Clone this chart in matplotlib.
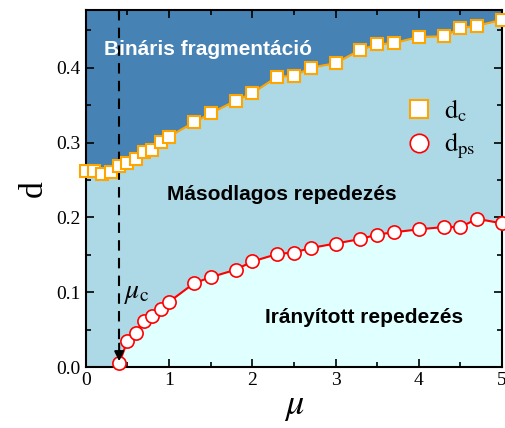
""" Phase diagram d(mu) with the three fragmentation regimes """
import matplotlib.pyplot as plt
from matplotlib.ticker import MultipleLocator

plt.rcParams["mathtext.fontset"] = "stix"

# critical values d_c (squares) and d_ps (circles)
mu_c_vals = [0.0, 0.1, 0.2, 0.3, 0.4, 0.5, 0.6, 0.7, 0.8, 0.9, 1.0, 1.3, 1.5, 1.8, 2.0,
             2.3, 2.5, 2.7, 3.0, 3.3, 3.5, 3.7, 4.0, 4.3, 4.5, 4.7, 5.0]
d_c = [0.262, 0.262, 0.258, 0.261, 0.268, 0.272, 0.278, 0.287, 0.290, 0.301, 0.308,
       0.327, 0.339, 0.356, 0.366, 0.388, 0.389, 0.400, 0.406, 0.424, 0.431, 0.433,
       0.441, 0.442, 0.453, 0.456, 0.464]

mu_ps_vals = [0.4, 0.5, 0.6, 0.7, 0.8, 0.9, 1.0, 1.3, 1.5, 1.8, 2.0, 2.3, 2.5, 2.7,
              3.0, 3.3, 3.5, 3.7, 4.0, 4.3, 4.5, 4.7, 5.0]
d_ps = [0.005, 0.035, 0.046, 0.062, 0.068, 0.078, 0.087, 0.112, 0.120, 0.130, 0.141,
        0.151, 0.153, 0.159, 0.165, 0.171, 0.177, 0.180, 0.184, 0.187, 0.187, 0.198, 0.192]

mu_crit = 0.4
region_labels = ["Bináris fragmentáció", "Másodlagos repedezés", "Irányított repedezés"]

SERIF = ["Liberation Serif", "DejaVu Serif"]
SANS = ["Liberation Sans", "DejaVu Sans"]

fig = plt.figure(figsize=(5.05, 4.28), dpi=100)
ax = fig.add_axes([0.170, 0.1425, 0.824, 0.834])

ylim_top = 0.477
ax.set_xlim(0, 5)
ax.set_ylim(0, ylim_top)

# background regions
ax.set_facecolor("#4682B4")
ax.fill_between(mu_c_vals, 0, d_c, color="#ADD8E6", lw=0, zorder=1)
ax.fill_between(mu_ps_vals, 0, d_ps, color="#E0FFFF", lw=0, zorder=1)

# data series
ax.plot(mu_c_vals, d_c, color="orange", lw=1.5, marker="s", ms=9,
        mfc="white", mec="orange", mew=1.5, clip_on=False, zorder=5, label=r"$\mathrm{d_c}$")
ax.plot(mu_ps_vals, d_ps, color="red", lw=1.5, marker="o", ms=9.5,
        mfc="white", mec="red", mew=1.2, clip_on=False, zorder=5, label=r"$\mathrm{d_{ps}}$")

# mu_c marker: dashed line + arrow head
ax.plot([mu_crit, mu_crit], [ylim_top, 0.03], color="black", lw=1.5,
        ls=(0, (5, 3.5)), zorder=4)
ax.annotate("", xy=(mu_crit, 0.004), xytext=(mu_crit, 0.035),
            arrowprops=dict(arrowstyle="-|>", color="black", lw=1.5,
                            mutation_scale=14), zorder=6)
ax.text(0.46, 0.092, r"$\mu_\mathrm{c}$", fontsize=20, zorder=6)

# region names
ax.text(1.47, 0.424, region_labels[0], color="white", fontsize=15,
        fontweight="bold", family=SANS, ha="center", va="center", zorder=6)
ax.text(2.35, 0.230, region_labels[1], color="black", fontsize=15,
        fontweight="bold", family=SANS, ha="center", va="center", zorder=6)
ax.text(3.34, 0.066, region_labels[2], color="black", fontsize=15,
        fontweight="bold", family=SANS, ha="center", va="center", zorder=6)

leg = ax.legend(loc="center left", bbox_to_anchor=(0.715, 0.665), frameon=False,
                handlelength=0.9, handletextpad=0.5, labelspacing=0.25,
                markerscale=1.4, prop=dict(size=19))
for line in leg.get_lines():
    line.set_linestyle("none")

# ticks and labels
ax.xaxis.set_major_locator(MultipleLocator(1))
ax.xaxis.set_minor_locator(MultipleLocator(0.5))
ax.yaxis.set_major_locator(MultipleLocator(0.1))
ax.yaxis.set_minor_locator(MultipleLocator(0.05))
ax.tick_params(which="both", direction="in", top=True, right=True, width=1.2)
ax.tick_params(which="major", length=6, labelsize=14)
ax.tick_params(which="minor", length=3.5)
for lab in ax.get_xticklabels() + ax.get_yticklabels():
    lab.set_family(SERIF)
ax.yaxis.set_major_formatter(plt.FuncFormatter(lambda v, p: f"{v:.1f}"))
for sp in ax.spines.values():
    sp.set_linewidth(1.5)

ax.set_xlabel(r"$\mu$", fontsize=26, labelpad=0)
ax.set_ylabel("d", fontsize=24, family=SERIF, labelpad=6)

fig.savefig("out.png", dpi=100)
